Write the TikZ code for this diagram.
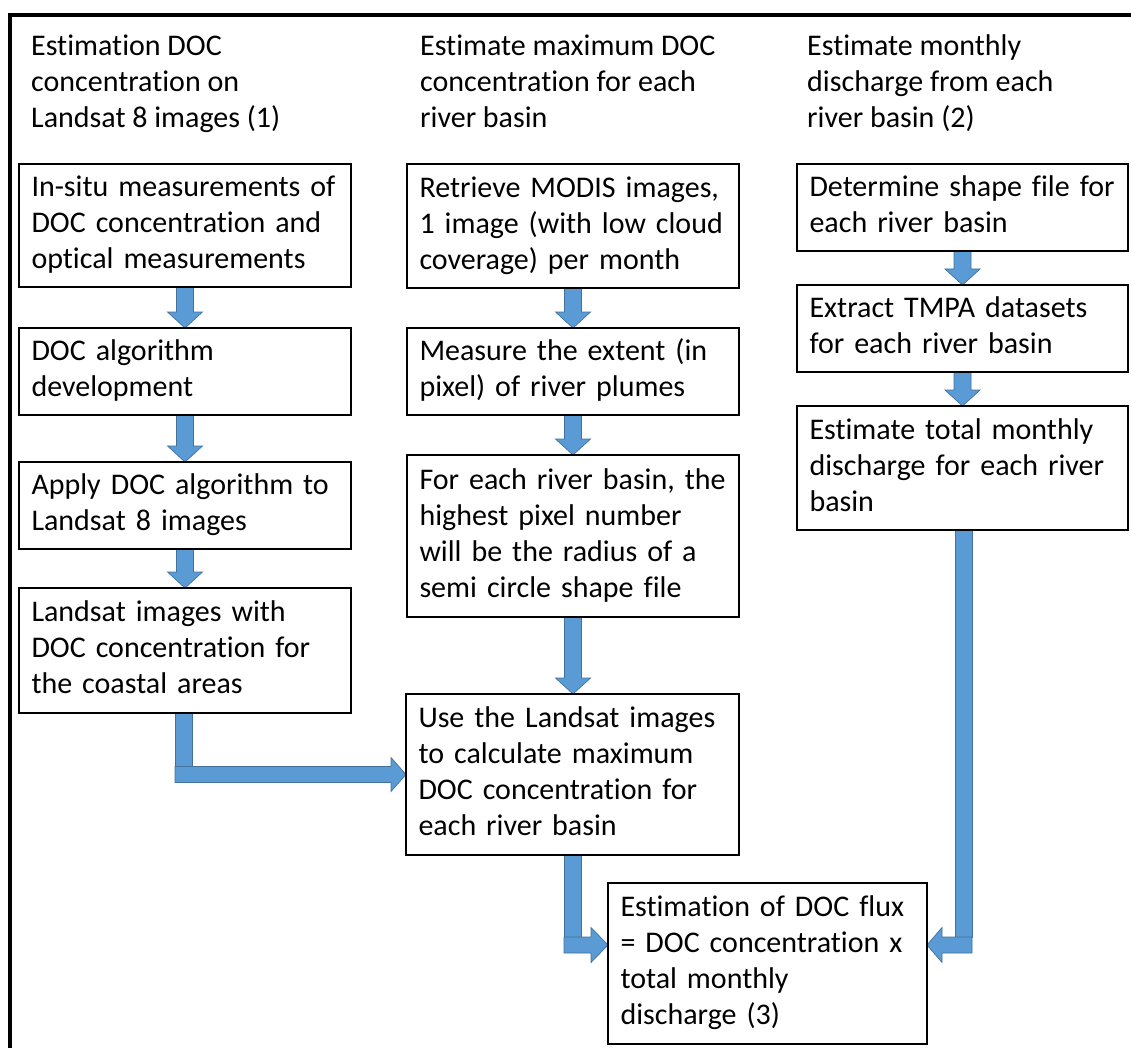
\documentclass[tikz,border=0pt]{standalone}
\usepackage{fontspec}
\setmainfont{Carlito}[Ligatures=NoCommon]
\usetikzlibrary{calc}
\pgfdeclarelayer{bg}
\pgfsetlayers{bg,main}
\definecolor{arrowfill}{RGB}{91,155,213}
\definecolor{arrowline}{RGB}{65,113,156}
\newcommand\myline[1]{\mbox{\strut#1}}
\newcommand\varrow[2]{%
  \path[barrow] let \p1=(#1.south), \p2=(#2.north) in
  (\x1-8.5pt,\y1) -- (\x1+8.5pt,\y1) -- (\x1+8.5pt,\y2+16pt) -- (\x1+17.5pt,\y2+16pt)
  -- (\x1,\y2) -- (\x1-17.5pt,\y2+16pt) -- (\x1-8.5pt,\y2+16pt) -- cycle;}
\tikzset{
  txtfont/.style={font=\fontsize{30pt}{36pt}\selectfont},
  box/.style={txtfont, draw=black, line width=1.8pt, anchor=north west, align=left,
    inner xsep=12.5pt, inner ysep=0pt, outer sep=0pt},
  hdr/.style={txtfont, anchor=north west, align=left, inner sep=0pt},
  barrow/.style={fill=arrowfill, draw=arrowline, line width=0.7pt, line join=miter},
  frame/.style={draw=black, line width=3.8pt}
}
\begin{document}
\begin{tikzpicture}[x=1pt,y=-1pt]
\useasboundingbox (0,0) rectangle (1131,1048);

% outer frame
\coordinate (fbl) at (9.8,1052);
\coordinate (ftl) at (9.8,14.7);
\coordinate (ftr) at (1136,14.7);
\draw[frame] (fbl) -- (ftl) -- (ftr);

% headers
\node[hdr] (h1) at (31,29.8) {\myline{Estimation DOC}\\\myline{concentration on}\\\myline{Landsat 8 images (1)}};
\node[hdr] (h2) at (420,29.8) {\myline{Estimate maximum DOC}\\\myline{concentration for each}\\\myline{river basin}};
\node[hdr] (h3) at (807,29.8) {\myline{Estimate monthly}\\\myline{discharge from each}\\\myline{river basin (2)}};

% column 1
\node[box, text width=307pt, minimum height=123pt] (B1) at (19,164)
  {\myline{In-situ measurements of}\\\myline{DOC concentration and}\\\myline{optical measurements}};
\node[box, text width=307pt, minimum height=87pt] (B2) at (19,328)
  {\myline{DOC algorithm}\\\myline{development}};
\node[box, text width=307pt, minimum height=87pt] (B3) at (19,462)
  {\myline{Apply DOC algorithm to}\\\myline{Landsat 8 images}};
\node[box, text width=307pt, minimum height=125pt] (B4) at (19,588)
  {\myline{Landsat images with}\\\myline{DOC concentration for}\\\myline{the coastal areas}};

% column 2
\node[box, text width=307pt, minimum height=124pt] (C1) at (407,164)
  {\myline{Retrieve MODIS images,}\\\myline{1 image (with low cloud}\\\myline{coverage) per month}};
\node[box, text width=307pt, minimum height=87pt] (C2) at (407,328)
  {\myline{Measure the extent (in}\\\myline{pixel) of river plumes}};
\node[box, text width=307pt, minimum height=162pt] (C3) at (407,455)
  {\myline{For each river basin, the}\\\myline{highest pixel number}\\\myline{will be the radius of a}\\\myline{semi circle shape file}};
\node[box, text width=308pt, minimum height=161pt] (C4) at (406,694)
  {\myline{Use the Landsat images}\\\myline{to calculate maximum}\\\myline{DOC concentration for}\\\myline{each river basin}};

% column 3
\node[box, text width=306pt, minimum height=87pt] (D1) at (797,164)
  {\myline{Determine shape file for}\\\myline{each river basin}};
\node[box, text width=306pt, minimum height=87pt] (D2) at (797,285)
  {\myline{Extract TMPA datasets}\\\myline{for each river basin}};
\node[box, text width=306pt, minimum height=124pt] (D3) at (797,406)
  {\myline{Estimate total monthly}\\\myline{discharge for each river}\\\myline{basin}};

% final box
\node[box, text width=294pt, minimum height=161pt] (E) at (608,883)
  {\myline{Estimation of DOC flux}\\\myline{= DOC concentration x}\\\myline{total monthly}\\\myline{discharge (3)}};

\coordinate (Ein) at ([yshift=18.5pt]E.west);
\coordinate (Eout) at ([yshift=18.5pt]E.east);

\begin{pgfonlayer}{bg}
\fill[white] (0,0) rectangle (1131,1048);
% vertical block arrows
\varrow{B1}{B2}
\varrow{B2}{B3}
\varrow{B3}{B4}
\varrow{C1}{C2}
\varrow{C2}{C3}
\varrow{C3}{C4}
\varrow{D1}{D2}
\varrow{D2}{D3}

% B4 -> C4 (bent)
\path[barrow] let \p1=([xshift=-1.5pt]B4.south), \p2=(C4.west) in
  (\x1-8.5pt,\y1) rectangle (\x1+8.5pt,\y2+8pt);
\path[barrow] let \p1=([xshift=-1.5pt]B4.south), \p2=(C4.west) in
  (\x1-8.5pt,\y2+8pt) -- (\x2-15pt,\y2+8pt) -- (\x2-15pt,\y2+17pt) -- (\x2,\y2)
  -- (\x2-15pt,\y2-17pt) -- (\x2-15pt,\y2-8pt) -- (\x1-8.5pt,\y2-8pt) -- cycle;

% C4 -> E (bent)
\path[barrow] let \p1=(C4.south), \p2=(Ein) in
  (\x1-8.5pt,\y1) rectangle (\x1+8.5pt,\y2+8pt);
\path[barrow] let \p1=(C4.south), \p2=(Ein) in
  (\x1-8.5pt,\y2+8pt) -- (\x2-17pt,\y2+8pt) -- (\x2-17pt,\y2+17.5pt) -- (\x2,\y2)
  -- (\x2-17pt,\y2-17.5pt) -- (\x2-17pt,\y2-8pt) -- (\x1-8.5pt,\y2-8pt) -- cycle;

% D3 -> E (bent)
\path[barrow] let \p1=([xshift=1pt]D3.south), \p2=(Eout) in
  (\x1-8.5pt,\y1) rectangle (\x1+8.5pt,\y2+8pt);
\path[barrow] let \p1=([xshift=1pt]D3.south), \p2=(Eout) in
  (\x1+8.5pt,\y2+8pt) -- (\x2+15pt,\y2+8pt) -- (\x2+15pt,\y2+17.5pt) -- (\x2,\y2)
  -- (\x2+15pt,\y2-17.5pt) -- (\x2+15pt,\y2-8pt) -- (\x1+8.5pt,\y2-8pt) -- cycle;
\end{pgfonlayer}
\end{tikzpicture}
\end{document}
